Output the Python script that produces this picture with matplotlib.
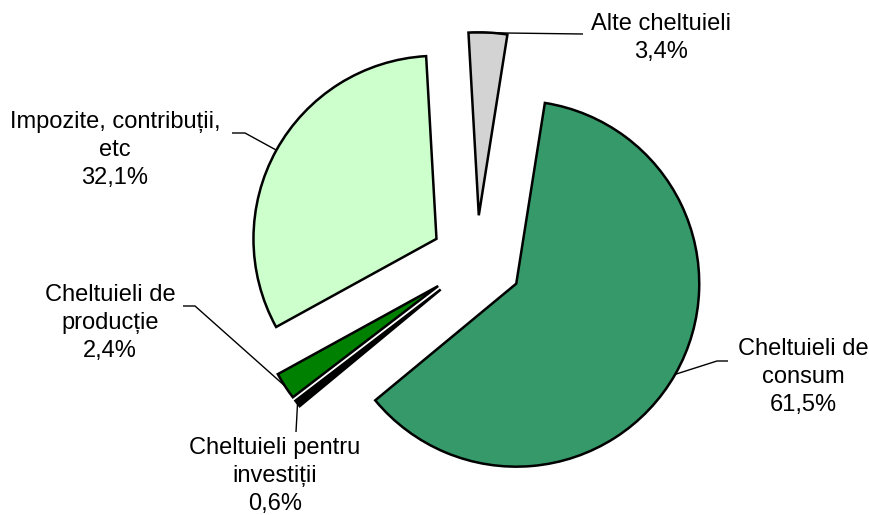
import numpy as np
import matplotlib
matplotlib.use("Agg")
import matplotlib.pyplot as plt

plt.rcParams['font.family'] = ['Liberation Sans', 'DejaVu Sans']

# slices, clockwise starting near the top
labels = ['Cheltuieli de\nconsum', 'Cheltuieli pentru\ninvestiții', 'Cheltuieli de\nproducție',
          'Impozite, contribuții,\netc', 'Alte cheltuieli']
values = [61.5, 0.6, 2.4, 32.1, 3.4]
pct_text = ['61,5%', '0,6%', '2,4%', '32,1%', '3,4%']
colors = ['#36996a', '#000000', '#008000', '#ccffcc', '#d3d3d3']

START = 81.0
EXPLODE = 0.25
# pixel -> data: centre (476.5, 261), radius 183 px
PX, CX, CY = 183.0, 476.5, 261.0


def to_data(px, py):
    return (px - CX) / PX, (CY - py) / PX


fig = plt.figure(figsize=(8.7, 5.15), dpi=100)
ax = fig.add_axes([0, 0, 1, 1])

wedges, _ = ax.pie(values, colors=colors, startangle=START, counterclock=False,
                   explode=[EXPLODE] * len(values), radius=1.0,
                   wedgeprops=dict(edgecolor='black', linewidth=1.8))

# leader lines: anchor angle on arc, elbow points (pixels), label centre (pixels)
anchor_frac = [0.5, 0.5, 0.5, 0.5, 0.97]
elbows = [[(717, 361), (728, 361)],
          [(296, 432)],
          [(195, 306), (183, 306)],
          [(245, 133), (232, 133)],
          [(583, 34)]]
label_pos = [(803, 377), (275, 476), (110, 323), (115, 150), (661, 38)]

for w, frac, elb, lp, lab, pt in zip(wedges, anchor_frac, elbows, label_pos, labels, pct_text):
    ang = np.deg2rad(w.theta1 + (w.theta2 - w.theta1) * frac)
    cx, cy = w.center
    xs = [cx + w.r * np.cos(ang)]
    ys = [cy + w.r * np.sin(ang)]
    for p in elb:
        dx, dy = to_data(*p)
        xs.append(dx)
        ys.append(dy)
    ax.plot(xs, ys, color='black', linewidth=1.0, solid_capstyle='butt')
    tx, ty = to_data(*lp)
    ax.text(tx, ty, lab + '\n' + pt, ha='center', va='center', fontsize=17,
            linespacing=1.36, color='black')

ax.set_xlim(to_data(0, 0)[0], to_data(870, 0)[0])
ax.set_ylim(to_data(0, 515)[1], to_data(0, 0)[1])
ax.set_aspect('equal')
ax.axis('off')

fig.savefig('out.png', dpi=100)
